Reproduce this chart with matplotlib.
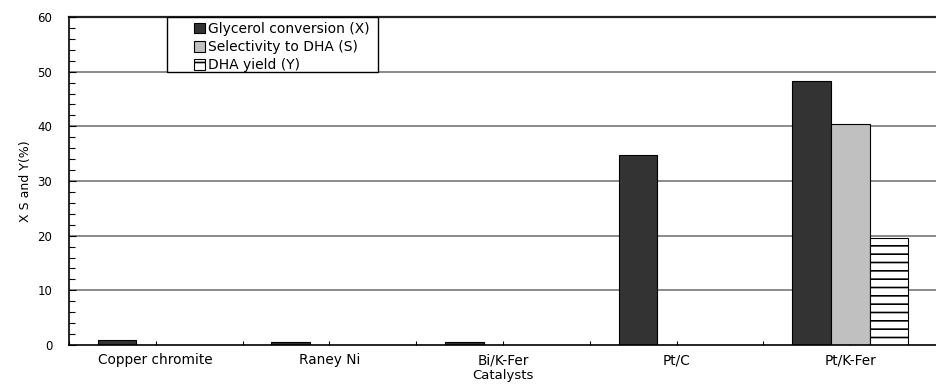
import matplotlib
matplotlib.use("Agg")
import matplotlib.pyplot as plt
from matplotlib.patches import Rectangle, Patch
from matplotlib.ticker import MultipleLocator
import numpy as np

plt.rcParams['font.family'] = ['DejaVu Sans']
plt.rcParams['hatch.linewidth'] = 1.2

catalysts = ["Copper chromite", "Raney Ni", "Bi/K-Fer", "Pt/C", "Pt/K-Fer"]
conversion = [1.0, 0.6, 0.6, 34.8, 48.3]
selectivity = [0, 0, 0, 0, 40.5]
dha_yield = [0, 0, 0, 0, 19.5]
series_labels = ["Glycerol conversion (X)", "Selectivity to DHA (S)", "DHA yield (Y)"]
series_colors = ["#333333", "#c0c0c0", "white"]
series_hatch = [None, None, "--"]

fig = plt.figure(figsize=(9.37, 3.84), dpi=100)
ax = fig.add_axes([69/937, 39/384, (937-69)/937, 328/384])

x = np.arange(len(catalysts))
w = 0.223
ax.set_axisbelow(True)
all_vals = [conversion, selectivity, dha_yield]
for k, vals in enumerate(all_vals):
    bars = ax.bar(x + (k - 1) * w, vals, w, color=series_colors[k], edgecolor="black",
                  linewidth=0.8, hatch=series_hatch[k])
    for b, v in zip(bars, vals):
        if v == 0:
            b.set_visible(False)

ax.set_xlim(-0.5, (937-69)/175 - 0.5)
ax.set_ylim(0, 60)
ax.yaxis.set_major_locator(MultipleLocator(10))
ax.yaxis.set_minor_locator(MultipleLocator(2))
ax.set_xticks(x)
ax.set_xticklabels(catalysts, fontsize=9.8)
ax.set_xticks(np.arange(-0.5, 5, 0.5), minor=True)
ax.tick_params(axis="x", which="both", direction="in", length=3, width=0.8, pad=6)
ax.tick_params(axis="y", which="major", direction="in", length=5, width=0.8, labelsize=8.5, pad=12)
ax.tick_params(axis="y", which="minor", direction="in", length=4, width=0.8)

for yv in [10, 20, 30, 40, 50]:
    ax.axhline(yv, color="#777777", linewidth=1.2, zorder=0.5)
ax.axhline(60, color="#222222", linewidth=1.6, zorder=0.5, clip_on=False)

ax.spines["right"].set_visible(False)
ax.spines["top"].set_visible(False)
ax.spines["left"].set_linewidth(1.2)
ax.spines["bottom"].set_linewidth(1.2)

ax.set_xlabel("Catalysts", fontsize=9.5, va="top")
ax.xaxis.set_label_coords(0.5, -(369-345)/328)
ax.set_ylabel("X S and Y(%)", fontsize=9, labelpad=4)

# legend frame
fx0 = (167-69)/868
fx1 = (378-69)/868
fy0 = (345-72)/328
ax.add_patch(Rectangle((fx0, fy0), fx1 - fx0, 1 - fy0, transform=ax.transAxes,
                       facecolor="white", edgecolor="black", linewidth=1.0, zorder=5, clip_on=False))
handles = [Patch(facecolor=series_colors[k], edgecolor="black", linewidth=0.8,
                 hatch=series_hatch[k], label=series_labels[k]) for k in range(3)]
leg = ax.legend(handles=handles, loc="upper left", bbox_to_anchor=((189-69)/868, 1.0), frameon=False,
                fontsize=10, handlelength=0.8, handleheight=0.8, handletextpad=0.25,
                labelspacing=0.3, borderpad=0.35, borderaxespad=0)
leg.set_zorder(6)

fig.savefig("out.png", dpi=100)
